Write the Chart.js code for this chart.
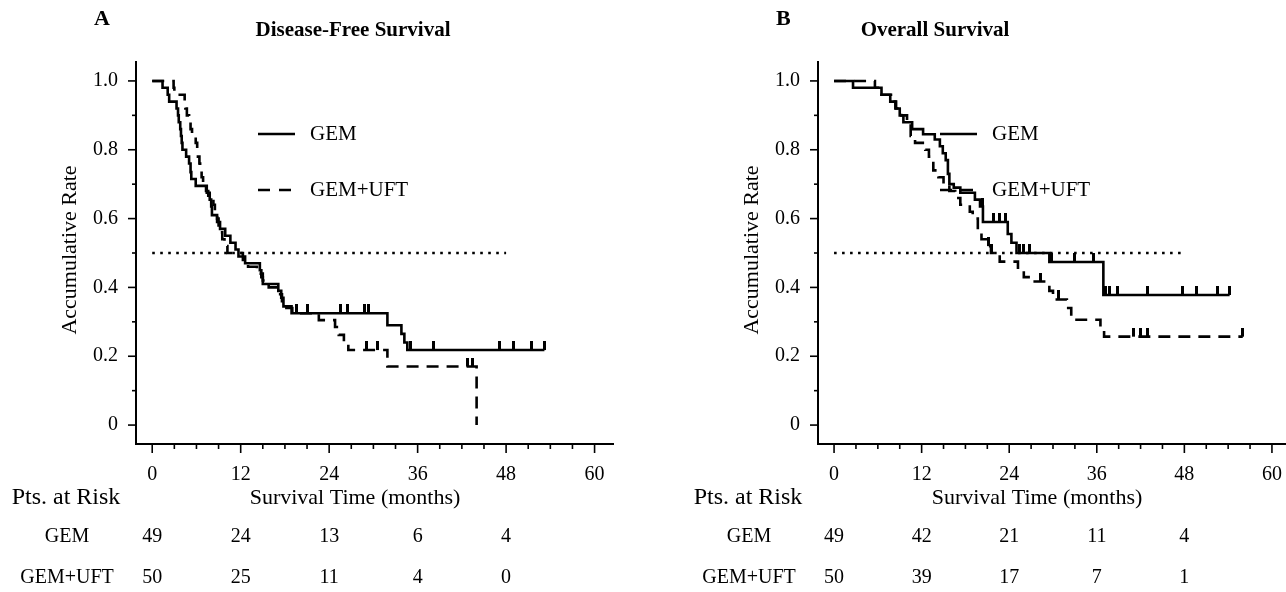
<!DOCTYPE html>
<html>
<head>
<meta charset="utf-8">
<script src="https://cdn.jsdelivr.net/npm/chart.js@4.4.1/dist/chart.umd.min.js"></script>
<style>
html, body { margin: 0; padding: 0; background: #fff; overflow: hidden; }
#wrapA { position: absolute; left: 0; top: 0; width: 643px; height: 592px; }
#wrapB { position: absolute; left: 682px; top: 0; width: 643px; height: 592px; }
</style>
</head>
<body>
<div id="wrapA"><canvas id="chartA" width="643" height="592"></canvas></div>
<div id="wrapB"><canvas id="chartB" width="643" height="592"></canvas></div>
<script>
// axes
const xTicks    = [0, 12, 24, 36, 48, 60];
const yTicks    = [0, 0.2, 0.4, 0.6, 0.8, 1.0];
const riskTimes = [0, 12, 24, 36, 48];
const medianLine = [[0, 0.5], [48, 0.5]];

// A : Disease-Free Survival
const dfsGemT = [0, 1.4, 2.1, 2.3, 3.3, 3.5, 3.6, 3.8, 3.9, 4.0, 4.1, 4.6, 5.0, 5.2, 5.3, 5.9, 7.4, 7.8, 8.0, 8.1,
                 8.8, 9.2, 9.9, 10.6, 11.3, 11.7, 12.6, 14.6, 14.8, 15.0, 17.1, 17.5, 17.8, 18.9, 31.9, 33.8, 34.2, 34.6, 53.2];
const dfsGemS = [1.0, 0.98, 0.96, 0.94, 0.92, 0.90, 0.88, 0.86, 0.84, 0.82, 0.80, 0.78, 0.76, 0.735, 0.715, 0.695, 0.675, 0.655, 0.635, 0.61,
                 0.59, 0.57, 0.55, 0.53, 0.51, 0.49, 0.47, 0.45, 0.43, 0.41, 0.39, 0.37, 0.345, 0.325, 0.29, 0.265, 0.24, 0.218, 0.218];
const dfsGemCens = [19.6, 21.1, 25.6, 26.5, 28.8, 29.4, 35.0, 38.2, 47.1, 49.0, 51.4, 53.2];

const dfsUftT = [0, 2.9, 3.0, 4.4, 4.5, 4.7, 5.0, 5.2, 5.4, 5.9, 6.1, 6.2, 6.4, 6.5, 6.7, 6.9, 7.3, 7.6, 8.3, 8.5, 8.8,
                 9.0, 9.2, 9.5, 9.8, 10.2, 12.3, 13.0, 14.2, 15.0, 15.8, 17.0, 17.6, 18.2, 19.0, 22.6, 24.8, 25.3, 26.0, 26.6, 31.9, 44.0];
const dfsUftS = [1.0, 0.98, 0.96, 0.94, 0.92, 0.90, 0.88, 0.86, 0.84, 0.82, 0.80, 0.78, 0.76, 0.74, 0.72, 0.70, 0.68, 0.66, 0.64, 0.62, 0.60,
                 0.58, 0.56, 0.54, 0.52, 0.50, 0.48, 0.46, 0.44, 0.42, 0.40, 0.38, 0.36, 0.34, 0.325, 0.305, 0.285, 0.262, 0.24, 0.218, 0.17, 0.0];
const dfsUftCens = [29.0, 30.6, 42.8, 43.4];

const dfsRiskGem = [49, 24, 13, 6, 4];
const dfsRiskUft = [50, 25, 11, 4, 0];

// B : Overall Survival
const osGemT = [0, 2.6, 6.5, 7.7, 8.4, 9.0, 9.5, 10.7, 12.2, 13.8, 14.5, 14.9, 15.3, 15.6, 15.8, 16.4, 17.3, 19.3, 20.0, 20.4,
                23.8, 24.3, 25.0, 29.5, 36.9, 54.2];
const osGemS = [1.0, 0.98, 0.96, 0.94, 0.92, 0.90, 0.88, 0.86, 0.845, 0.83, 0.81, 0.79, 0.77, 0.73, 0.70, 0.69, 0.675, 0.655, 0.635, 0.59,
                0.555, 0.53, 0.50, 0.474, 0.378, 0.378];
const osGemCens = [20.3, 21.8, 22.7, 23.5, 25.4, 26.0, 26.8, 29.8, 33.0, 35.5, 37.2, 37.8, 38.9, 43.0, 47.8, 49.7, 52.5, 54.2];

const osUftT = [0, 5.6, 6.5, 7.8, 8.5, 9.2, 10.0, 10.5, 11.1, 12.5, 13.0, 13.6, 14.3, 15.0, 15.8, 16.6, 17.3, 18.6, 19.0, 19.7,
                20.2, 20.9, 21.5, 22.7, 25.2, 26.0, 27.3, 29.5, 30.0, 31.9, 32.5, 36.5, 37.0, 56.0];
const osUftS = [1.0, 0.98, 0.96, 0.94, 0.92, 0.90, 0.88, 0.84, 0.82, 0.80, 0.78, 0.74, 0.72, 0.70, 0.68, 0.66, 0.64, 0.62, 0.60, 0.56,
                0.54, 0.52, 0.50, 0.475, 0.45, 0.43, 0.417, 0.39, 0.365, 0.34, 0.306, 0.28, 0.257, 0.257];
const osUftCens = [21.2, 21.6, 28.3, 30.8, 41.0, 42.0, 43.0, 56.0];

const osRiskGem = [49, 42, 21, 11, 4];
const osRiskUft = [50, 39, 17, 7, 1];

const SERIF = '"Liberation Serif", "Times New Roman", serif';

// value of the step curve at time t (for the censor marks)
function survAt(ts, ss, t) {
    let s = ss[0];
    for (let i = 0; i < ts.length; i++) if (ts[i] <= t) s = ss[i];
    return s;
}
const pts = (ts, ss) => ts.map((t, i) => ({ x: t, y: ss[i] }));
const cens = (ts, ss, cs) => cs.map(t => ({ x: t, y: survAt(ts, ss, t) }));

// little upward tick used as censor mark
const tick = document.createElement('canvas');
tick.width = 3; tick.height = 18;
const tctx = tick.getContext('2d');
tctx.fillStyle = '#000';
tctx.fillRect(0, 0, 3, 9);

// texts, ticks, legend, at-risk table
const decorPlugin = {
    id: 'decor',
    afterDraw(chart, args, o) {
        const { ctx, chartArea, scales } = chart;
        const sx = scales.x, sy = scales.y;
        ctx.save();
        ctx.strokeStyle = '#000';
        ctx.fillStyle = '#000';
        ctx.lineWidth = 1.6;
        // tick marks
        for (let v = 0; v <= 60; v += 3) {
            const px = sx.getPixelForValue(v);
            const len = v % 12 === 0 ? 9 : 5;
            ctx.beginPath(); ctx.moveTo(px, chartArea.bottom); ctx.lineTo(px, chartArea.bottom + len); ctx.stroke();
        }
        for (let k = 0; k <= 10; k++) {
            const py = sy.getPixelForValue(k / 10);
            const len = k % 2 === 0 ? 8 : 4;
            ctx.beginPath(); ctx.moveTo(chartArea.left - len, py); ctx.lineTo(chartArea.left, py); ctx.stroke();
        }
        // panel letter + title
        ctx.textBaseline = 'middle';
        ctx.textAlign = 'left';
        ctx.font = 'bold 22px ' + SERIF;
        ctx.fillText(o.letter, 94, 19);
        ctx.textAlign = 'center';
        ctx.font = 'bold 21px ' + SERIF;
        ctx.fillText(o.title, o.titleX, 31);
        // legend
        ctx.lineWidth = 2.6;
        ctx.beginPath(); ctx.moveTo(258, 134); ctx.lineTo(295, 134); ctx.stroke();
        ctx.setLineDash([12, 9]);
        ctx.beginPath(); ctx.moveTo(258, 190); ctx.lineTo(299, 190); ctx.stroke();
        ctx.setLineDash([]);
        ctx.font = '21px ' + SERIF;
        ctx.textAlign = 'left';
        ctx.fillText('GEM', 310, 134);
        ctx.fillText('GEM+UFT', 310, 190);
        // y title
        ctx.save();
        ctx.translate(70, 250);
        ctx.rotate(-Math.PI / 2);
        ctx.textAlign = 'center';
        ctx.font = '22px ' + SERIF;
        ctx.fillText('Accumulative Rate', 0, 0);
        ctx.restore();
        // x title + at risk table
        ctx.font = '22px ' + SERIF;
        ctx.textAlign = 'center';
        ctx.fillText('Survival Time (months)', 355, 498);
        ctx.font = '24px ' + SERIF;
        ctx.fillText('Pts. at Risk', 66, 498);
        ctx.font = '20px ' + SERIF;
        ctx.fillText('GEM', 67, 537);
        ctx.fillText('GEM+UFT', 67, 578);
        riskTimes.forEach((t, i) => {
            const px = sx.getPixelForValue(t);
            ctx.fillText(String(o.riskGem[i]), px, 537);
            ctx.fillText(String(o.riskUft[i]), px, 578);
        });
        ctx.restore();
    }
};

function makeChart(canvasId, padRight, xMax, gemT, gemS, gemC, uftT, uftS, uftC, decor) {
    return new Chart(document.getElementById(canvasId).getContext('2d'), {
        type: 'scatter',
        data: {
            datasets: [
                {   // median reference
                    data: medianLine.map(p => ({ x: p[0], y: p[1] })),
                    showLine: true, borderColor: '#000', borderWidth: 2.6,
                    borderDash: [2.6, 5.4], pointRadius: 0
                },
                {
                    data: pts(gemT, gemS), showLine: true, stepped: 'before',
                    borderColor: '#000', borderWidth: 2.6, pointRadius: 0
                },
                {
                    data: pts(uftT, uftS), showLine: true, stepped: 'before',
                    borderColor: '#000', borderWidth: 2.6, borderDash: [12, 8], pointRadius: 0
                },
                {
                    data: cens(gemT, gemS, gemC), pointStyle: tick, pointRadius: 4
                },
                {
                    data: cens(uftT, uftS, uftC), pointStyle: tick, pointRadius: 4
                }
            ]
        },
        options: {
            responsive: false,
            animation: false,
            layout: { padding: { left: 0, top: 62, right: padRight, bottom: 0 } },
            plugins: { legend: { display: false }, tooltip: { enabled: false }, decor },
            scales: {
                x: {
                    type: 'linear', min: -2.2, max: xMax,
                    afterFit: s => { s.height = 148; },
                    afterBuildTicks: s => { s.ticks = xTicks.map(v => ({ value: v })); },
                    grid: { display: false, drawTicks: false },
                    border: { display: true, color: '#000', width: 2 },
                    ticks: { color: '#000', padding: 19, maxRotation: 0, font: { family: SERIF, size: 20 } }
                },
                y: {
                    type: 'linear', min: -0.055, max: 1.055,
                    afterFit: s => { s.width = 136; },
                    afterBuildTicks: s => { s.ticks = yTicks.map(v => ({ value: v })); },
                    grid: { display: false, drawTicks: false },
                    border: { display: true, color: '#000', width: 2 },
                    ticks: {
                        color: '#000', padding: 18, font: { family: SERIF, size: 20 },
                        callback: v => (v === 0 ? '0' : v.toFixed(1))
                    }
                }
            }
        },
        plugins: [decorPlugin]
    });
}

makeChart('chartA', 30, 62.5, dfsGemT, dfsGemS, dfsGemCens, dfsUftT, dfsUftS, dfsUftCens,
          { letter: 'A', title: 'Disease-Free Survival', titleX: 353, riskGem: dfsRiskGem, riskUft: dfsRiskUft });
makeChart('chartB', 10, 65.9, osGemT, osGemS, osGemCens, osUftT, osUftS, osUftCens,
          { letter: 'B', title: 'Overall Survival', titleX: 253, riskGem: osRiskGem, riskUft: osRiskUft });
</script>
</body>
</html>
